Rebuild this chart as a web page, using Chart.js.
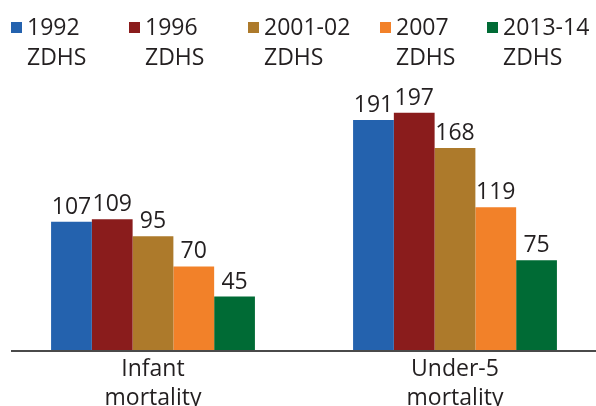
<!DOCTYPE html>
<html><head><meta charset="utf-8">
<script src="https://cdn.jsdelivr.net/npm/chart.js@4.4.1/dist/chart.umd.min.js"></script>
<style>
html,body{margin:0;padding:0;background:#fff;overflow:hidden;width:596px;height:406px}
canvas{position:absolute;left:0;top:0}
</style></head><body>
<canvas id="c" width="610" height="409"></canvas>
<script>
const categories = [["Infant","mortality"],["Under-5","mortality"]];
const seriesLabels = [["1992","ZDHS"],["1996","ZDHS"],["2001-02","ZDHS"],["2007","ZDHS"],["2013-14","ZDHS"]];
const v1992 = [107, 191];
const v1996 = [109, 197];
const v2001 = [95, 168];
const v2007 = [70, 119];
const v2013 = [45, 75];
const colors = ["#2462AE","#8A1C1C","#AD7A2B","#F28129","#006B35"];
const legendX = [11, 129, 248, 380, 487];

const FONT = "'Open Sans', 'DejaVu Sans', sans-serif";
const values = [v1992, v1996, v2001, v2007, v2013];

const overlay = {
  id: 'overlay',
  afterDatasetsDraw(chart) {
    const ctx = chart.ctx;
    ctx.save();
    ctx.fillStyle = '#231F20';
    ctx.font = '23px ' + FONT;
    ctx.textAlign = 'center';
    ctx.textBaseline = 'alphabetic';
    chart.data.datasets.forEach((ds, di) => {
      const meta = chart.getDatasetMeta(di);
      meta.data.forEach((bar, i) => {
        ctx.fillText(String(ds.data[i]), bar.x, bar.y - 8);
      });
    });
    const y0 = chart.scales.y.getPixelForValue(0);
    ctx.strokeStyle = '#4a4a4a';
    ctx.lineWidth = 2;
    ctx.beginPath();
    ctx.moveTo(11, y0);
    ctx.lineTo(chart.width, y0);
    ctx.stroke();
    ctx.textAlign = 'left';
    ctx.font = '23px ' + FONT;
    chart.data.datasets.forEach((ds, di) => {
      const x = legendX[di];
      ctx.fillStyle = ds.backgroundColor;
      ctx.fillRect(x, 22, 11, 11);
      ctx.fillStyle = '#231F20';
      ds.label.forEach((t, li) => ctx.fillText(t, x + 16, 35 + li * 30));
    });
    ctx.restore();
  }
};

new Chart(document.getElementById('c'), {
  type: 'bar',
  data: {
    labels: categories,
    datasets: values.map((d, i) => ({
      label: seriesLabels[i],
      data: d,
      backgroundColor: colors[i],
      borderWidth: 0,
      categoryPercentage: 0.675,
      barPercentage: 1.0
    }))
  },
  options: {
    responsive: false,
    animation: false,
    layout: { padding: { top: 85, left: 2, right: 4, bottom: 0 } },
    plugins: { legend: { display: false }, tooltip: { enabled: false }, title: { display: false } },
    scales: {
      x: {
        grid: { display: false },
        border: { display: false },
        ticks: {
          color: '#231F20',
          font: { family: FONT, size: 23, lineHeight: 1.26 },
          padding: -4,
          maxRotation: 0,
          autoSkip: false
        }
      },
      y: {
        display: false,
        min: 0,
        max: 220
      }
    }
  },
  plugins: [overlay]
});
</script>
</body></html>
